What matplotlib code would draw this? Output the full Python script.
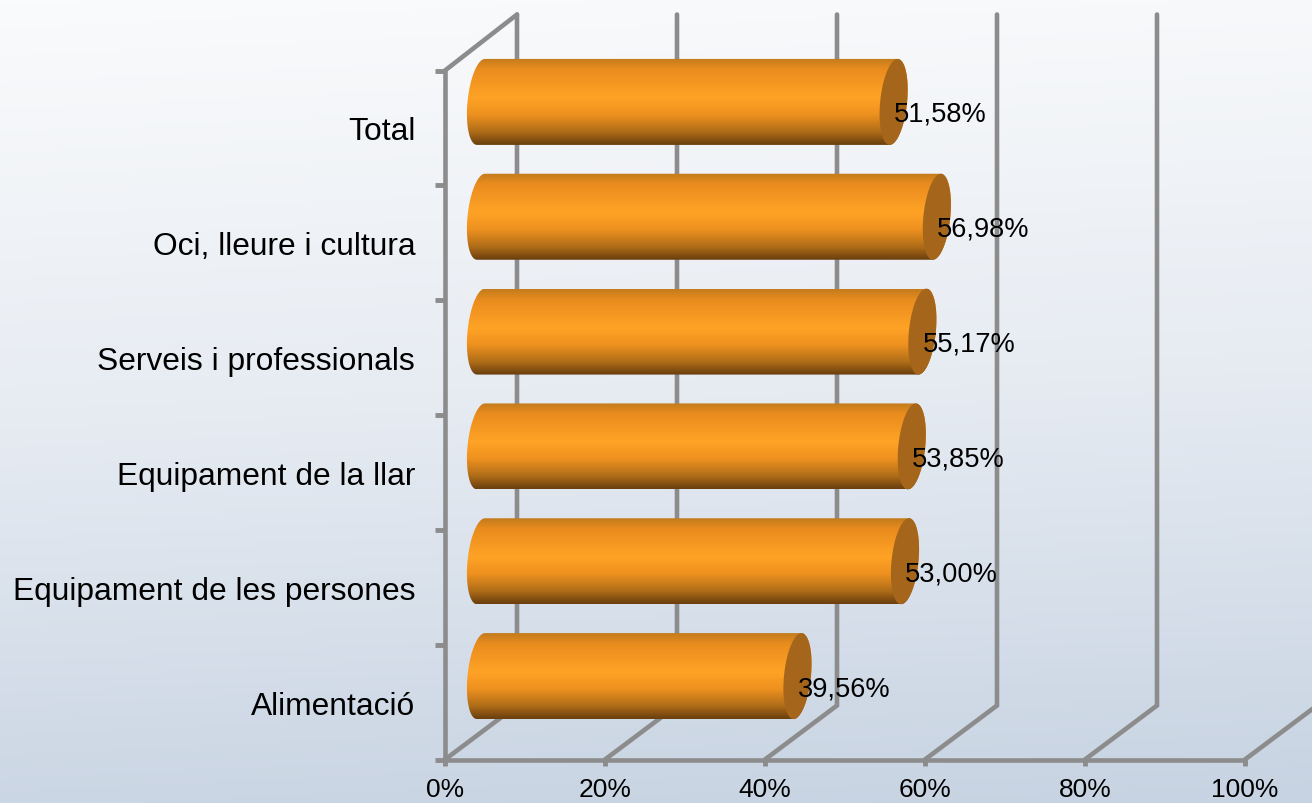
import numpy as np
import matplotlib
matplotlib.use('Agg')
import matplotlib.pyplot as plt
from matplotlib.colors import LinearSegmentedColormap
from matplotlib.patches import Polygon

plt.rcParams['font.family'] = ['Liberation Sans', 'DejaVu Sans']

# dades, de baix a dalt com a l'eix
categories = ['Alimentació', 'Equipament de les persones', 'Equipament de la llar',
              'Serveis i professionals', 'Oci, lleure i cultura', 'Total']
values = [39.56, 53.00, 53.85, 55.17, 56.98, 51.58]
value_labels = ['39,56%', '53,00%', '53,85%', '55,17%', '56,98%', '51,58%']
x_ticks = [0, 20, 40, 60, 80, 100]
x_tick_labels = ['0%', '20%', '40%', '60%', '80%', '100%']

W, H = 1312, 804
GRAY = '#8c8c8c'
PX_X = 8.0            # pixels per 1%
PX_Y = 689 / 6        # pixels per categoria
DEPTH_X = 72 / PX_X   # profunditat del "3D"
DEPTH_Y = 54 / PX_Y
TOP_BACK = 6 + 56 / PX_Y

fig = plt.figure(figsize=(W / 100, H / 100), dpi=100)

# fons amb degradat
bg = fig.add_axes([0, 0, 1, 1], zorder=0)
bg.axis('off')
yy, xx = np.mgrid[0:1:200j, 0:1:200j]
bg_cmap = LinearSegmentedColormap.from_list('bg', ['#fafbfc', '#e6ebf2', '#c7d3e2'])
bg.imshow(yy * 0.93 + xx * 0.07, cmap=bg_cmap, aspect='auto', vmin=0, vmax=1)

ax = fig.add_axes([445 / W, (H - 760.5) / H, 800 / W, 689 / H], zorder=1)
ax.patch.set_visible(False)

# graella: diagonal del terra + vertical del fons
for x in x_ticks:
    ax.plot([x, x + DEPTH_X, x + DEPTH_X], [0, DEPTH_Y, TOP_BACK], color=GRAY, lw=3.3,
            clip_on=False, solid_joinstyle='miter', solid_capstyle='round', zorder=1)
ax.plot([0, DEPTH_X], [6, TOP_BACK], color=GRAY, lw=3.3, clip_on=False,
        solid_capstyle='round', zorder=1)

# cilindres
bar_cmap = LinearSegmentedColormap.from_list(
    'bar', [(0, '#c47c1c'), (0.12, '#e98c1e'), (0.45, '#ffa326'), (0.65, '#ee911f'),
            (0.85, '#b06d18'), (1, '#6b3f0e')])
half_h = 43 / PX_Y
a = 13.5 / PX_X
s = 4 / PX_X
t_left = np.linspace(np.pi / 2, 3 * np.pi / 2, 40)
t_right = np.linspace(-np.pi / 2, np.pi / 2, 40)
t_full = np.linspace(0, 2 * np.pi, 80)
start = DEPTH_X / 2

for i, v in enumerate(values):
    yc = i + 0.5 + DEPTH_Y / 2 - 1 / PX_Y
    end = start + v
    xs = np.r_[start + a * np.cos(t_left) + s * np.sin(t_left),
               end + a * np.cos(t_right) + s * np.sin(t_right)]
    ys = np.r_[yc + half_h * np.sin(t_left), yc + half_h * np.sin(t_right)]
    body = Polygon(np.c_[xs, ys], closed=True, fc='none', ec='none', zorder=2, clip_on=False)
    ax.add_patch(body)
    im = ax.imshow(np.linspace(0, 1, 100).reshape(-1, 1), cmap=bar_cmap, aspect='auto',
                   extent=[start - 3, end + 3, yc - half_h, yc + half_h], zorder=2)
    im.set_clip_box(fig.bbox)
    im.set_clip_path(body)
    cap = Polygon(np.c_[end + a * np.cos(t_full) + s * np.sin(t_full), yc + half_h * np.sin(t_full)],
                  closed=True, fc='#a5651a', ec='none', zorder=3, clip_on=False)
    ax.add_patch(cap)
    ax.annotate(value_labels[i], (end, yc), xytext=(0, -12 * 0.72), textcoords='offset points',
                ha='left', va='center', fontsize=19.6, color='black', zorder=5,
                annotation_clip=False)

ax.set_xlim(0, 100)
ax.set_ylim(0, 6)

# eixos
for side in ['top', 'right']:
    ax.spines[side].set_visible(False)
for side in ['left', 'bottom']:
    ax.spines[side].set_color(GRAY)
    ax.spines[side].set_linewidth(3.3)
    ax.spines[side].set_zorder(1.5)
ax.set_xticks(x_ticks)
ax.set_xticklabels(x_tick_labels, fontsize=19)
ax.set_yticks(range(7))
ax.set_yticklabels([])
ax.set_yticks(np.arange(len(categories)) + 0.5, minor=True)
ax.set_yticklabels(categories, minor=True, fontsize=22.9)
ax.tick_params(axis='x', length=4, width=3.5, color=GRAY, pad=8.5)
ax.tick_params(axis='y', which='major', length=7, width=3.5, color=GRAY)
ax.tick_params(axis='y', which='minor', length=0, pad=21.5)

fig.savefig('out.png', dpi=100)
